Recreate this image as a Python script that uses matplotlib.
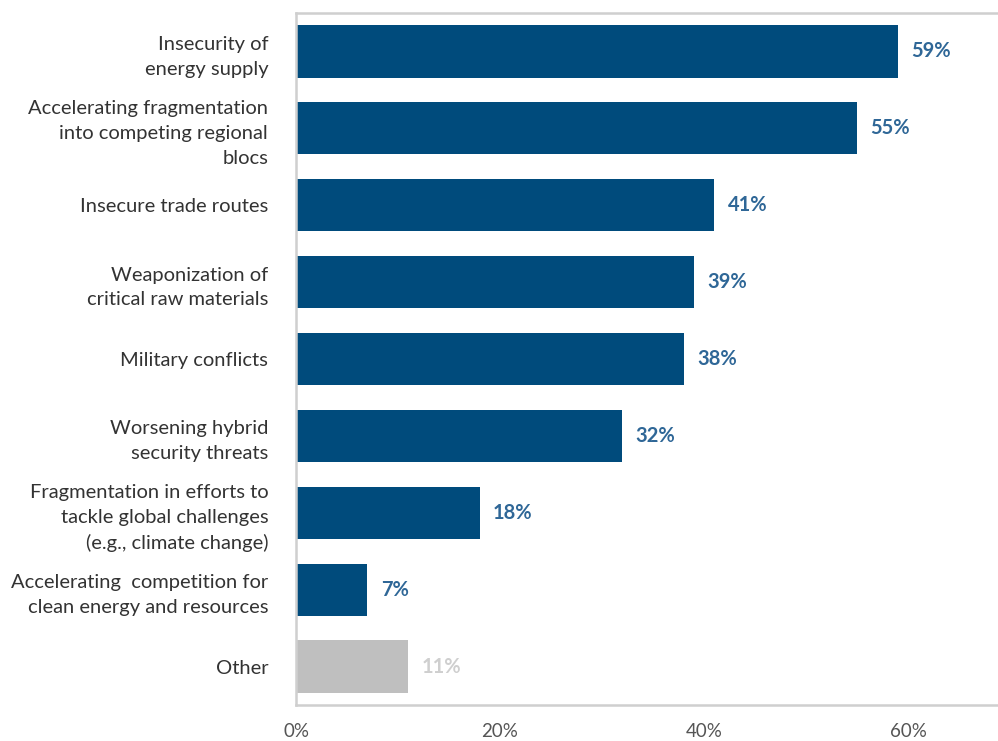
import matplotlib
matplotlib.use("Agg")
import matplotlib.pyplot as plt

categories = [
    "Insecurity of\nenergy supply",
    "Accelerating fragmentation\ninto competing regional\nblocs",
    "Insecure trade routes",
    "Weaponization of\ncritical raw materials",
    "Military conflicts",
    "Worsening hybrid\nsecurity threats",
    "Fragmentation in efforts to\ntackle global challenges\n(e.g., climate change)",
    "Accelerating  competition for\nclean energy and resources",
    "Other",
]
values = [59, 55, 41, 39, 38, 32, 18, 7, 11]
labels = ["59%", "55%", "41%", "39%", "38%", "32%", "18%", "7%", "11%"]
xticks = [0, 20, 40, 60]
xticklabels = ["0%", "20%", "40%", "60%"]

plt.rcParams['font.family'] = ['Lato', 'DejaVu Sans']

fig = plt.figure(figsize=(9.98, 7.41), dpi=100)
W, H = 998, 741
x0, x60 = 296, 908
pxper = (x60 - x0) / 60.0
xmax = 72
left = x0 / W
width = xmax * pxper / W
top_px, bot_px = 13, 705
ax = fig.add_axes([left, 1 - bot_px / H, width, (bot_px - top_px) / H])

bar_colors = ["#004B7C"] * 8 + ["#BFBFBF"]
text_colors = ["#2F6797"] * 8 + ["#CFCFCF"]
ypos = list(range(len(values)))
ax.barh(ypos, values, height=0.68, color=bar_colors)
for y, v, lab, c in zip(ypos, values, labels, text_colors):
    ax.text(v + 1.3, y, lab, va="center", ha="left", fontsize=14.5,
            fontweight="bold", color=c)

ax.set_ylim(8.5, -0.5)
ax.set_xlim(0, xmax)
ax.set_yticks(ypos)
ax.set_yticklabels(categories, fontsize=14.5, color="#333333", linespacing=1.55)
ax.set_xticks(xticks)
ax.set_xticklabels(xticklabels, fontsize=13.5, color="#555555")
ax.tick_params(axis="both", length=0)
ax.tick_params(axis="x", pad=13)
ax.tick_params(axis="y", pad=20)
for s in ax.spines.values():
    s.set_color("#CFCFCF")
    s.set_linewidth(1.8)

fig.savefig("out.png", dpi=100)
